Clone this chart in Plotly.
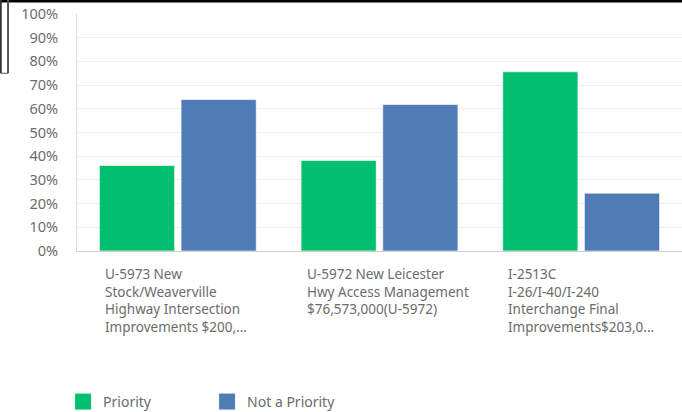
import plotly.graph_objects as go

categories = ["U-5973", "U-5972", "I-2513C"]
category_labels = [
    "U-5973 New<br>Stock/Weaverville<br>Highway Intersection<br>Improvements $200,...",
    "U-5972 New Leicester<br>Hwy Access Management<br>$76,573,000(U-5972)",
    "I-2513C<br>I-26/I-40/I-240<br>Interchange Final<br>Improvements$203,0...",
]
series_names = ["Priority", "Not a Priority"]
priority = [36.1, 38.2, 75.6]
not_priority = [63.9, 61.8, 24.4]
tick_vals = [0, 10, 20, 30, 40, 50, 60, 70, 80, 90, 100]
tick_text = [f"{v}%" for v in tick_vals]

FONT = "Noto Sans"
TXT = "#6b6b6b"
COLORS = ["#00bf6f", "#507cb6"]

fig = go.Figure()
for name, vals, col in zip(series_names, [priority, not_priority], COLORS):
    fig.add_trace(go.Bar(x=categories, y=vals, name=name, showlegend=False,
                         marker=dict(color=col, line=dict(color="rgba(255,255,255,0.6)", width=1))))
# legend entries with larger square swatches
for name, col in zip(series_names, COLORS):
    fig.add_trace(go.Scatter(x=[None], y=[None], mode="markers", name=name,
                             marker=dict(symbol="square", size=17, color=col)))

for cat, lab in zip(categories, category_labels):
    fig.add_annotation(x=cat, xref="x", y=-0.05, yref="paper", text=lab,
                       xanchor="left", yanchor="top", align="left", xshift=-75,
                       showarrow=False, font=dict(family=FONT, size=13.5, color=TXT))

# screenshot frame artifacts (pixel positions via paper coords)
fig.add_shape(type="line", xref="paper", yref="paper", x0=-0.13, x1=1.0, y0=1.055, y1=1.055,
              line=dict(color="black", width=3))
fig.add_shape(type="line", xref="paper", yref="paper", x0=-0.126, x1=-0.126, y0=1.06, y1=0.75,
              line=dict(color="#333", width=2))
fig.add_shape(type="line", xref="paper", yref="paper", x0=-0.114, x1=-0.114, y0=1.06, y1=0.75,
              line=dict(color="#555", width=2))
fig.add_shape(type="line", xref="paper", yref="paper", x0=-0.126, x1=-0.114, y0=0.75, y1=0.75,
              line=dict(color="#555", width=1))

fig.update_layout(
    width=682, height=412,
    margin=dict(l=77, r=0, t=14, b=161, autoexpand=False),
    paper_bgcolor="white", plot_bgcolor="white",
    barmode="group", bargap=0.19, bargroupgap=0.08,
    font=dict(family=FONT, size=13, color=TXT),
    showlegend=True,
    legend=dict(orientation="h", x=-0.023, xanchor="left", y=-0.637, yanchor="middle",
                font=dict(family=FONT, size=14, color=TXT), itemsizing="trace",
                entrywidth=99, entrywidthmode="pixels", traceorder="normal"),
    xaxis=dict(showticklabels=False, showline=True, linecolor="#cfcfcf", linewidth=1,
               showgrid=False, ticks="", range=[-0.5, 2.5], fixedrange=True, automargin=False),
    yaxis=dict(range=[0, 100], tickvals=tick_vals, ticktext=tick_text, automargin=False,
               showgrid=True, gridcolor="#eeeeee", gridwidth=1, zeroline=False,
               showline=True, linecolor="#dddddd", linewidth=1, ticks="", fixedrange=True,
               ticklabelstandoff=15, tickfont=dict(family=FONT, size=14.5, color=TXT)),
)

fig.write_html("out.html", config={"displayModeBar": False},
               post_script="document.body.style.margin='0';document.body.style.padding='0';document.body.style.overflow='hidden';")
